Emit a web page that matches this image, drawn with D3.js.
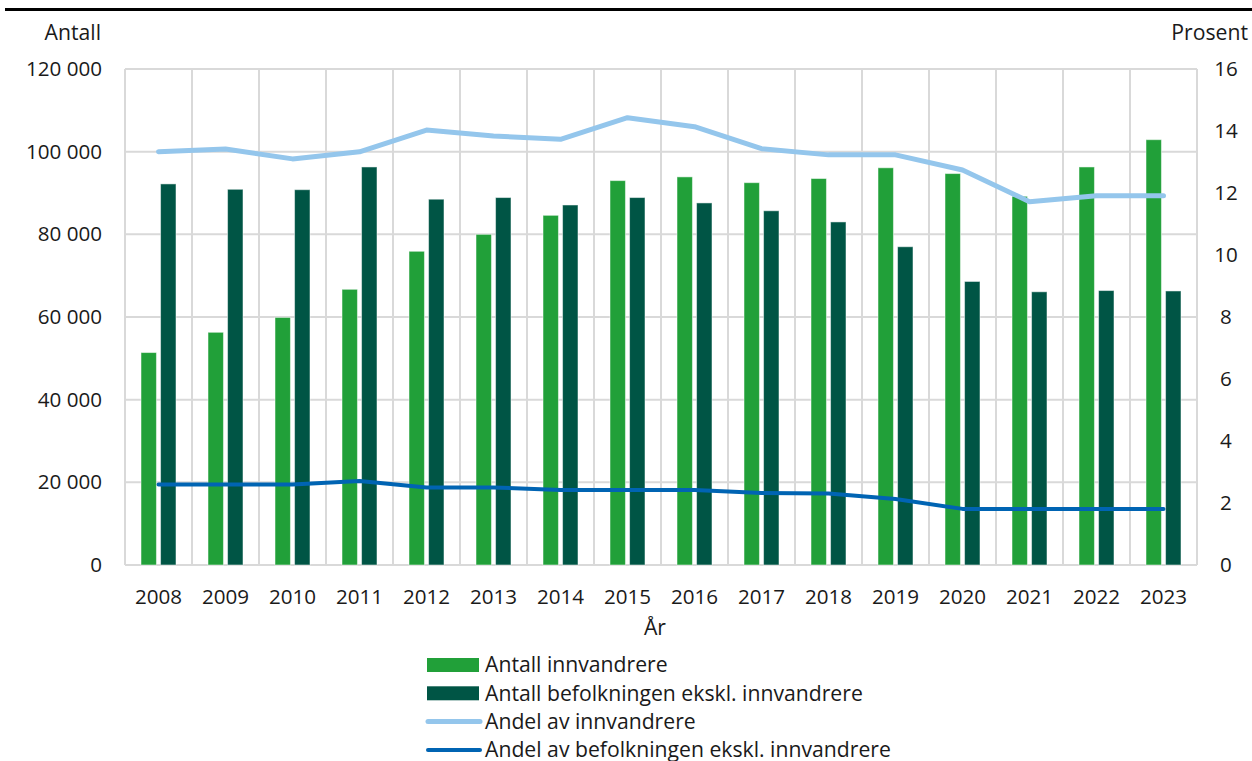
<!DOCTYPE html>
<html>
<head>
<meta charset="utf-8">
<script src="https://cdn.jsdelivr.net/npm/d3@7"></script>
<style>
  body { margin: 0; background: #fff; }
  svg { font-family: "Open Sans", sans-serif; }
</style>
</head>
<body>
<div id="main"></div>
<script>
// Data
var years = ["2008","2009","2010","2011","2012","2013","2014","2015","2016","2017","2018","2019","2020","2021","2022","2023"];
var antallInnvandrere = [51400, 56300, 59900, 66700, 75900, 80000, 84600, 93000, 93900, 92500, 93500, 96100, 94700, 89200, 96300, 102900];
var antallBefolkning = [92200, 90900, 90800, 96300, 88500, 88900, 87100, 88900, 87600, 85700, 83000, 77000, 68600, 66100, 66400, 66300];
var andelInnvandrere = [13.33, 13.42, 13.1, 13.33, 14.03, 13.84, 13.73, 14.43, 14.14, 13.43, 13.23, 13.23, 12.74, 11.72, 11.91, 11.91];
var andelBefolkning = [2.6, 2.6, 2.6, 2.71, 2.5, 2.5, 2.42, 2.42, 2.42, 2.32, 2.31, 2.13, 1.81, 1.81, 1.81, 1.81];
var leftTicks = [0, 20000, 40000, 60000, 80000, 100000, 120000];
var rightTicks = [0, 2, 4, 6, 8, 10, 12, 14, 16];
var legendItems = [
  { label: "Antall innvandrere", type: "bar", color: "#21a039" },
  { label: "Antall befolkningen ekskl. innvandrere", type: "bar", color: "#005545" },
  { label: "Andel av innvandrere", type: "line", color: "#94c6ec" },
  { label: "Andel av befolkningen ekskl. innvandrere", type: "line", color: "#0064b3" }
];

// Dimensions
var width = 1252, height = 761;
var plotLeft = 125, plotRight = 1197, plotTop = 69, plotBottom = 565;
var tickFont = 20.6, textFont = 21.2;

var svg = d3.select("#main").append("svg")
  .attr("width", width)
  .attr("height", height);

// Top black rule
svg.append("line")
  .attr("x1", 5).attr("x2", width)
  .attr("y1", 9.5).attr("y2", 9.5)
  .attr("stroke", "#000").attr("stroke-width", 3);

// Scales
var x0 = d3.scaleBand().domain(years).range([plotLeft, plotRight]).padding(0);
var x1 = d3.scaleBand().domain(["a", "b"])
  .range([(x0.bandwidth() - 35) / 2, (x0.bandwidth() + 35) / 2])
  .paddingInner(0.21);
var yL = d3.scaleLinear().domain([0, 120000]).range([plotBottom, plotTop]);
var yR = d3.scaleLinear().domain([0, 16]).range([plotBottom, plotTop]);

var fmt = d3.formatLocale({ decimal: ",", thousands: " ", grouping: [3], currency: ["", ""] }).format(",");

// Grid: horizontal
svg.append("g").selectAll("line").data(leftTicks).join("line")
  .attr("x1", plotLeft).attr("x2", plotRight)
  .attr("y1", function(d) { return yL(d); })
  .attr("y2", function(d) { return yL(d); })
  .attr("stroke", "#d9d9d9").attr("stroke-width", 2);

// Grid: vertical at category borders
var borders = years.map(function(y) { return x0(y); }).concat([plotRight]);
svg.append("g").selectAll("line").data(borders).join("line")
  .attr("x1", function(d) { return d; }).attr("x2", function(d) { return d; })
  .attr("y1", plotTop).attr("y2", plotBottom)
  .attr("stroke", "#d9d9d9").attr("stroke-width", 2);

// Bars
var groups = svg.append("g").selectAll("g").data(years).join("g")
  .attr("transform", function(d) { return "translate(" + x0(d) + ",0)"; });

groups.append("rect")
  .attr("x", x1("a"))
  .attr("width", x1.bandwidth())
  .attr("y", function(d, i) { return yL(antallInnvandrere[i]); })
  .attr("height", function(d, i) { return plotBottom - yL(antallInnvandrere[i]); })
  .attr("fill", legendItems[0].color)
  .attr("stroke", "rgba(255,255,255,0.5)").attr("stroke-width", 1);

groups.append("rect")
  .attr("x", x1("b"))
  .attr("width", x1.bandwidth())
  .attr("y", function(d, i) { return yL(antallBefolkning[i]); })
  .attr("height", function(d, i) { return plotBottom - yL(antallBefolkning[i]); })
  .attr("fill", legendItems[1].color)
  .attr("stroke", "rgba(255,255,255,0.5)").attr("stroke-width", 1);

// Lines (right axis)
var cx = function(d, i) { return x0(years[i]) + x0.bandwidth() / 2; };
var line = d3.line().x(cx).y(function(d) { return yR(d); });

svg.append("path").datum(andelInnvandrere)
  .attr("d", line)
  .attr("fill", "none")
  .attr("stroke", legendItems[2].color)
  .attr("stroke-width", 5)
  .attr("stroke-linecap", "round")
  .attr("stroke-linejoin", "round");

svg.append("path").datum(andelBefolkning)
  .attr("d", line)
  .attr("fill", "none")
  .attr("stroke", legendItems[3].color)
  .attr("stroke-width", 4)
  .attr("stroke-linecap", "round")
  .attr("stroke-linejoin", "round");

// Axes
var axL = svg.append("g")
  .attr("transform", "translate(" + plotLeft + ",0)")
  .call(d3.axisLeft(yL).tickValues(leftTicks).tickFormat(fmt).tickSize(0).tickPadding(23));
axL.select(".domain").remove();
axL.selectAll("text").attr("font-size", tickFont).attr("fill", "#1a1a1a").attr("font-family", "Open Sans");

var axR = svg.append("g")
  .attr("transform", "translate(" + plotRight + ",0)")
  .call(d3.axisRight(yR).tickValues(rightTicks).tickSize(0).tickPadding(29));
axR.select(".domain").remove();
axR.selectAll("text").attr("font-size", tickFont).attr("fill", "#1a1a1a")
  .attr("font-family", "Open Sans").attr("text-anchor", "middle");

var axB = svg.append("g")
  .attr("transform", "translate(0," + plotBottom + ")")
  .call(d3.axisBottom(x0).tickSize(0).tickPadding(24));
axB.select(".domain").remove();
axB.selectAll("text").attr("font-size", tickFont).attr("fill", "#1a1a1a").attr("font-family", "Open Sans");

// Axis titles
svg.append("text").attr("x", 101).attr("y", 40)
  .attr("text-anchor", "end").attr("font-size", textFont).attr("fill", "#1a1a1a")
  .text("Antall");
svg.append("text").attr("x", 1248).attr("y", 40)
  .attr("text-anchor", "end").attr("font-size", textFont).attr("fill", "#1a1a1a")
  .text("Prosent");
svg.append("text").attr("x", 655).attr("y", 635)
  .attr("text-anchor", "middle").attr("font-size", textFont).attr("fill", "#1a1a1a")
  .text("År");

// Legend
var legend = svg.append("g").selectAll("g").data(legendItems).join("g")
  .attr("transform", function(d, i) { return "translate(427," + (665 + i * 28.3) + ")"; });

legend.filter(function(d) { return d.type === "bar"; }).append("rect")
  .attr("x", 0).attr("y", -7).attr("width", 52).attr("height", 14)
  .attr("fill", function(d) { return d.color; });

legend.filter(function(d) { return d.type === "line"; }).append("line")
  .attr("x1", 1).attr("x2", 53).attr("y1", 0).attr("y2", 0)
  .attr("stroke", function(d) { return d.color; })
  .attr("stroke-width", function(d, i) { return i === 0 ? 5 : 4; })
  .attr("stroke-linecap", "round");

legend.append("text")
  .attr("x", 58).attr("y", 0).attr("dy", "0.35em")
  .attr("font-size", textFont).attr("fill", "#1a1a1a")
  .text(function(d) { return d.label; });
</script>
</body>
</html>
